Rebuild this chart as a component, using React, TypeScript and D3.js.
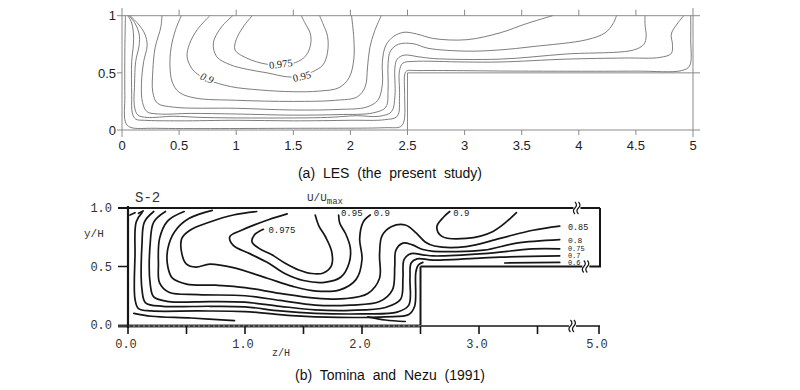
import React from 'react';
import * as d3 from 'd3';

// ---- (a) LES contours of U/Umax, points are [z/H, y/H] ----
const lesC0975 = [[1.14, 1.0], [1.06, 0.9], [1.0, 0.79], [0.99, 0.7], [1.09, 0.63], [1.27, 0.575], [1.4, 0.573], [1.52, 0.59], [1.61, 0.65], [1.65, 0.74], [1.65, 0.84], [1.6, 0.94], [1.57, 1.0]];
const lesC095 = [[0.97, 1.0], [0.87, 0.9], [0.8, 0.76], [0.83, 0.64], [0.95, 0.57], [1.1, 0.53], [1.27, 0.5], [1.45, 0.465], [1.57, 0.47], [1.67, 0.51], [1.76, 0.57], [1.8, 0.68], [1.8, 0.82], [1.76, 0.93], [1.73, 1.0]];
const lesC09 = [[0.77, 1.0], [0.66, 0.88], [0.59, 0.75], [0.57, 0.64], [0.61, 0.54], [0.66, 0.49], [0.75, 0.44], [0.95, 0.38], [1.21, 0.35], [1.5, 0.335], [1.72, 0.34], [1.9, 0.37], [1.99, 0.46], [2.03, 0.62], [2.03, 0.8], [2.01, 1.0]];
const lesC085 = [[0.52, 1.0], [0.47, 0.88], [0.43, 0.72], [0.42, 0.56], [0.44, 0.42], [0.5, 0.33], [0.64, 0.28], [1.0, 0.26], [1.5, 0.25], [1.87, 0.26], [2.06, 0.29], [2.13, 0.38], [2.15, 0.55], [2.17, 0.72], [2.21, 0.86], [2.27, 1.0]];
const lesC08 = [[0.35, 1.0], [0.34, 0.9], [0.29, 0.72], [0.27, 0.52], [0.27, 0.33], [0.31, 0.235], [0.45, 0.2], [1.0, 0.19], [1.5, 0.175], [1.9, 0.18], [2.14, 0.2], [2.24, 0.26], [2.28, 0.4], [2.28, 0.6], [2.31, 0.74], [2.38, 0.82], [2.47, 0.855], [2.58, 0.84], [2.73, 0.8], [3.02, 0.79], [3.31, 0.85], [3.54, 0.93], [3.77, 1.0]];
const lesC075 = [[0.07, 1.0], [0.14, 0.93], [0.2, 0.84], [0.22, 0.74], [0.19, 0.6], [0.17, 0.4], [0.18, 0.24], [0.22, 0.16], [0.32, 0.14], [0.6, 0.145], [1.0, 0.14], [1.5, 0.13], [1.9, 0.135], [2.2, 0.15], [2.31, 0.2], [2.33, 0.35], [2.33, 0.58], [2.35, 0.69], [2.42, 0.75], [2.55, 0.755], [2.68, 0.715], [3.02, 0.69], [3.3, 0.7], [3.6, 0.73], [4.07, 0.79], [4.23, 0.85], [4.3, 0.93], [4.33, 1.0]];
const lesC07 = [[0.06, 1.0], [0.11, 0.94], [0.15, 0.84], [0.15, 0.74], [0.12, 0.6], [0.11, 0.4], [0.11, 0.2], [0.14, 0.13], [0.22, 0.11], [0.45, 0.12], [0.7, 0.11], [1.2, 0.105], [1.8, 0.11], [2.05, 0.125], [2.25, 0.12], [2.36, 0.16], [2.39, 0.3], [2.39, 0.55], [2.41, 0.62], [2.47, 0.655], [2.6, 0.64], [2.73, 0.625], [3.31, 0.62], [3.89, 0.665], [4.48, 0.7], [4.57, 0.75], [4.59, 0.82], [4.58, 0.92], [4.58, 1.0]];
const lesC06 = [[0.05, 1.0], [0.08, 0.95], [0.1, 0.85], [0.1, 0.75], [0.085, 0.6], [0.085, 0.3], [0.09, 0.15], [0.12, 0.095], [0.2, 0.085], [0.5, 0.08], [1.0, 0.085], [1.5, 0.08], [2.0, 0.085], [2.3, 0.09], [2.41, 0.12], [2.43, 0.3], [2.43, 0.52], [2.46, 0.585], [2.55, 0.6], [3.0, 0.595], [3.31, 0.595], [3.89, 0.62], [4.4, 0.63], [4.71, 0.635], [4.81, 0.67], [4.82, 0.75], [4.81, 0.84], [4.87, 0.94], [4.92, 1.0]];
const lesCwall = [[0.03, 1.0], [0.025, 0.7], [0.025, 0.3], [0.03, 0.07], [0.07, 0.025], [0.3, 0.015], [1.5, 0.015], [2.3, 0.02], [2.44, 0.03], [2.47, 0.08], [2.475, 0.3], [2.475, 0.48], [2.49, 0.515], [2.6, 0.52], [3.5, 0.515], [4.5, 0.515], [4.9, 0.52], [4.97, 0.56], [4.98, 0.8], [4.98, 1.0]];
const lesContours = [lesC0975, lesC095, lesC09, lesC085, lesC08, lesC075, lesC07, lesC06, lesCwall];

const lesLabelTexts = ['0.975', '0.95', '0.9'];
const lesLabelAt = [[1.39, 0.578], [1.575, 0.47], [0.745, 0.455]];

const lesXTicks = [0, 0.5, 1, 1.5, 2, 2.5, 3, 3.5, 4, 4.5, 5];
const lesXTickLabels = ['0', '0.5', '1', '1.5', '2', '2.5', '3', '3.5', '4', '4.5', '5'];
const lesYTicks = [0, 0.5, 1];
const lesYTickLabels = ['0', '0.5', '1'];

// ---- (b) Tominaga and Nezu (1991), hand drawn contours ----
const expC0975 = [[1.157, 0.818], [1.08, 0.77], [1.06, 0.71], [1.12, 0.655], [1.23, 0.6], [1.34, 0.53], [1.46, 0.47], [1.57, 0.44], [1.67, 0.445], [1.74, 0.51], [1.74, 0.63], [1.69, 0.75], [1.63, 0.85], [1.6, 0.94]];
const expC095 = [[1.36, 0.95], [1.2, 0.9], [0.97, 0.81], [0.87, 0.755], [0.9, 0.68], [1.04, 0.61], [1.2, 0.53], [1.34, 0.44], [1.5, 0.38], [1.68, 0.365], [1.82, 0.41], [1.89, 0.53], [1.9, 0.66], [1.86, 0.78], [1.81, 0.87], [1.8, 0.94]];
const expC09 = [[1.1, 0.97], [0.9, 0.94], [0.7, 0.88], [0.53, 0.81], [0.46, 0.74], [0.46, 0.61], [0.5, 0.52], [0.58, 0.495], [0.7, 0.52], [0.9, 0.49], [1.19, 0.4], [1.41, 0.33], [1.61, 0.29], [1.81, 0.3], [1.95, 0.39], [2.0, 0.56], [1.98, 0.74], [2.01, 0.88], [2.07, 0.94]];
const expC09b = [[2.75, 0.97], [2.7, 0.925], [2.64, 0.84], [2.68, 0.76], [2.89, 0.74], [3.12, 0.8], [3.32, 0.96]];
const expC085 = [[0.72, 0.98], [0.52, 0.91], [0.4, 0.8], [0.34, 0.65], [0.34, 0.5], [0.38, 0.4], [0.5, 0.35], [0.75, 0.34], [1.0, 0.32], [1.3, 0.27], [1.6, 0.23], [1.85, 0.225], [2.05, 0.27], [2.15, 0.4], [2.15, 0.6], [2.17, 0.76], [2.25, 0.84], [2.37, 0.855], [2.46, 0.79], [2.54, 0.71], [2.62, 0.675], [2.89, 0.67], [3.18, 0.74], [3.46, 0.81], [3.69, 0.845]];
const expC08 = [[0.48, 0.97], [0.34, 0.89], [0.27, 0.74], [0.26, 0.52], [0.27, 0.36], [0.35, 0.28], [0.6, 0.26], [1.0, 0.25], [1.3, 0.21], [1.6, 0.17], [1.9, 0.17], [2.15, 0.2], [2.26, 0.3], [2.28, 0.5], [2.29, 0.64], [2.35, 0.7], [2.43, 0.685], [2.52, 0.645], [2.61, 0.63], [3.04, 0.64], [3.32, 0.7], [3.69, 0.73]];
const expC075 = [[0.32, 0.97], [0.22, 0.88], [0.19, 0.7], [0.19, 0.35], [0.22, 0.24], [0.35, 0.2], [0.7, 0.2], [1.0, 0.195], [1.3, 0.16], [1.6, 0.13], [1.9, 0.125], [2.2, 0.15], [2.33, 0.22], [2.35, 0.4], [2.36, 0.56], [2.42, 0.61], [2.52, 0.6], [2.61, 0.59], [3.04, 0.61], [3.46, 0.65], [3.69, 0.65]];
const expC07 = [[0.22, 0.97], [0.14, 0.88], [0.12, 0.7], [0.12, 0.3], [0.15, 0.19], [0.3, 0.16], [0.7, 0.16], [1.0, 0.155], [1.3, 0.12], [1.6, 0.1], [2.0, 0.095], [2.3, 0.11], [2.4, 0.17], [2.41, 0.4], [2.42, 0.53], [2.47, 0.565], [2.61, 0.555], [3.18, 0.58], [3.69, 0.59]];
const expC06 = [[0.12, 0.96], [0.07, 0.88], [0.06, 0.6], [0.06, 0.22], [0.09, 0.14], [0.2, 0.12], [0.6, 0.12], [1.0, 0.115], [1.4, 0.08], [1.8, 0.065], [2.2, 0.07], [2.4, 0.09], [2.45, 0.16], [2.46, 0.45], [2.48, 0.51], [2.52, 0.535]];
const expC06b = [[3.22, 0.53], [3.69, 0.535]];
const expFloorA = [[0.05, 0.1], [0.2, 0.075], [0.54, 0.06], [0.91, 0.037]];
const expFloorB = [[2.05, 0.07], [2.2, 0.043], [2.37, 0.03]];
const expDashA = [[0.017, 0.94], [0.06, 0.96]];
const expDashB = [[0.09, 0.955], [0.13, 0.975]];
const expContours = [expC0975, expC095, expC09, expC09b, expC085, expC08, expC075, expC07, expC06, expC06b, expFloorA, expFloorB, expDashA, expDashB];

const expLabelTexts = ['0.975', '0.95', '0.9', '0.9', '0.85', '0.8', '0.75', '0.7', '0.6'];
const expLabelAt = [[1.2, 0.79], [1.82, 0.93], [2.1, 0.93], [2.78, 0.93], [3.76, 0.81], [3.76, 0.705], [3.76, 0.636], [3.76, 0.576], [3.76, 0.516]];

const expXTicks = [0, 0.5, 1, 1.5, 2, 2.5, 3, 3.5, 5];
const expXLabelVals = [0, 1, 2, 3, 5];
const expXLabelTexts = ['0.0', '1.0', '2.0', '3.0', '5.0'];
const expYTicks = [0, 0.5, 1];
const expYTickLabels = ['0.0', '0.5', '1.0'];

const xA = d3.scaleLinear().domain([0, 5]).range([122, 693]);
const yA = d3.scaleLinear().domain([0, 1]).range([130, 15.7]);
const xB = d3.scaleLinear().domain([0, 3.9, 5]).range([128, 584.3, 599]);
const yB = d3.scaleLinear().domain([0, 1]).range([325, 208]);

const lineA = d3.line<number[]>().x(d => xA(d[0])).y(d => yA(d[1])).curve(d3.curveCatmullRom.alpha(0.5));
const lineB = d3.line<number[]>().x(d => xB(d[0])).y(d => yB(d[1])).curve(d3.curveCatmullRom.alpha(0.5));

const sans = '"Liberation Sans", Arial, sans-serif';
const mono = '"Liberation Mono", "DejaVu Sans Mono", monospace';
const gray = '#8a8a8a';
const ink = '#161616';

const lesLabelAngles = [-7, -14, 22];
// the stacked labels at the right end of panel (b) are smaller
const expLabelSizes = [9, 9, 9, 9, 8.5, 8, 7, 7, 7];

function BreakMark({ x, y }: { x: number; y: number }) {
  const wave = (dx: number) => `M${x + dx - 1.5},${y - 6} q3,3 0,6 q-3,3 0,6`;
  return (
    <g>
      <rect x={x - 3} y={y - 2} width={7} height={4} fill="#fff" />
      <path d={wave(0)} fill="none" stroke={ink} strokeWidth={1.2} />
      <path d={wave(3.5)} fill="none" stroke={ink} strokeWidth={1.2} />
    </g>
  );
}

export default function App() {
  const x0 = xA(0), x5 = xA(5), right = 700;
  return (
    <svg width={800} height={390} style={{ position: 'absolute', left: 0, top: 0, background: '#fff' }}>
      {/* ---------- panel (a) ---------- */}
      <g>
        {lesYTicks.map(v => (
          <line key={'yg' + v} x1={x0 - 5} x2={v === 0.5 ? x0 : right} y1={yA(v)} y2={yA(v)} stroke={gray} strokeWidth={1} />
        ))}
        <line x1={xA(2.5)} x2={right} y1={yA(0.5)} y2={yA(0.5)} stroke={gray} strokeWidth={1} />
        <line x1={xA(2.5)} x2={xA(2.5)} y1={yA(0)} y2={yA(0.5)} stroke={gray} strokeWidth={1} />
        <line x1={x0} x2={x0} y1={8} y2={137} stroke={gray} strokeWidth={1} />
        <line x1={x5} x2={x5} y1={8} y2={137} stroke={gray} strokeWidth={1} />
        {lesXTicks.filter(v => v > 0 && v < 5).map(v => (
          <g key={'xt' + v}>
            <line x1={xA(v)} x2={xA(v)} y1={yA(1) - 6} y2={yA(1)} stroke={gray} strokeWidth={1} />
            <line x1={xA(v)} x2={xA(v)} y1={yA(0)} y2={yA(0) + 5} stroke={gray} strokeWidth={1} />
          </g>
        ))}
        {lesContours.map((c, i) => (
          <path key={'lc' + i} d={lineA(c) || ''} fill="none" stroke="#6e6e6e" strokeWidth={0.9} />
        ))}
        {lesLabelTexts.map((t, i) => {
          const px = xA(lesLabelAt[i][0]), py = yA(lesLabelAt[i][1]);
          return (
            <text key={'ll' + i} x={px} y={py} dy="0.35em" textAnchor="middle"
              transform={`rotate(${lesLabelAngles[i]},${px},${py})`}
              fontFamily='"Liberation Serif", serif' fontSize={10.5} fontStyle={i === 2 ? 'italic' : 'normal'}
              fill="#222" stroke="#fff" strokeWidth={3} paintOrder="stroke">{t}</text>
          );
        })}
        {lesXTicks.map((v, i) => (
          <text key={'xl' + v} x={xA(v)} y={150} textAnchor="middle" fontFamily={sans} fontSize={13} fill="#222">{lesXTickLabels[i]}</text>
        ))}
        {lesYTicks.map((v, i) => (
          <text key={'yl' + v} x={116} y={yA(v)} dy="0.36em" textAnchor="end" fontFamily={sans} fontSize={13} fill="#222">{lesYTickLabels[i]}</text>
        ))}
        <text x={390} y={178} textAnchor="middle" fontFamily={sans} fontSize={14} wordSpacing={4} fill="#111">(a) LES (the present study)</text>
      </g>

      {/* ---------- panel (b) ---------- */}
      <g>
        <line x1={118} x2={xB(5) + 1} y1={yB(1)} y2={yB(1)} stroke={ink} strokeWidth={1.8} />
        <line x1={118} x2={xB(0)} y1={yB(0.5)} y2={yB(0.5)} stroke={ink} strokeWidth={1.5} />
        <line x1={118} x2={xB(2.5)} y1={yB(0) + 1} y2={yB(0) + 1} stroke="#3a3a3a" strokeWidth={3} />
        <line x1={xB(0)} x2={xB(2.5)} y1={yB(0) + 1} y2={yB(0) + 1} stroke="#9a9a9a" strokeWidth={1} strokeDasharray="2 3" />
        <line x1={xB(2.5)} x2={xB(5) + 1} y1={yB(0) + 1} y2={yB(0) + 1} stroke={ink} strokeWidth={1.5} />
        <line x1={xB(0)} x2={xB(0)} y1={yB(1) - 2} y2={yB(0) + 3} stroke={ink} strokeWidth={2.2} />
        <line x1={xB(2.5)} x2={xB(2.5)} y1={yB(0)} y2={yB(0.5)} stroke={ink} strokeWidth={2} />
        <line x1={xB(2.5)} x2={xB(5) + 2} y1={yB(0.5)} y2={yB(0.5)} stroke={ink} strokeWidth={1.8} />
        <line x1={xB(5) + 1} x2={xB(5) + 1} y1={yB(1)} y2={yB(0.5)} stroke={ink} strokeWidth={2} />
        {expXTicks.map(v => (
          <line key={'bt' + v} x1={xB(v)} x2={xB(v)} y1={yB(0) + 1} y2={yB(0) + 9} stroke={ink} strokeWidth={1.6} />
        ))}
        <BreakMark x={xB(3.85) - 2} y={yB(1)} />
        <BreakMark x={xB(3.9) + 1} y={yB(0.5)} />
        <BreakMark x={xB(3.82) - 3} y={yB(0) + 1} />
        {expContours.map((c, i) => (
          <path key={'ec' + i} d={lineB(c) || ''} fill="none" stroke={ink} strokeWidth={1.7} strokeLinecap="round" strokeLinejoin="round" />
        ))}
        {expLabelTexts.map((t, i) => (
          <text key={'el' + i} x={xB(expLabelAt[i][0])} y={yB(expLabelAt[i][1])} fontFamily={mono} fontSize={expLabelSizes[i]} fill={ink}>{t}</text>
        ))}
        {expXLabelVals.map((v, i) => (
          <text key={'bxl' + v} x={xB(v) - 2} y={348} textAnchor="middle" fontFamily={mono} fontSize={12} fill="#333">{expXLabelTexts[i]}</text>
        ))}
        {expYTicks.map((v, i) => (
          <text key={'byl' + v} x={112} y={yB(v)} dy="0.35em" textAnchor="end" fontFamily={mono} fontSize={12} fill="#333">{expYTickLabels[i]}</text>
        ))}
        <text x={135} y={202} fontFamily={mono} fontSize={14} fill="#333">S-2</text>
        <text x={307} y={201} fontFamily={mono} fontSize={11} fill="#333">U/U<tspan dy={3} fontSize={9}>max</tspan></text>
        <text x={84} y={237} fontFamily={mono} fontSize={11} fill="#333">y/H</text>
        <text x={272} y={356} fontFamily={mono} fontSize={10} fill="#333">z/H</text>
        <text x={390} y={380} textAnchor="middle" fontFamily={sans} fontSize={14} wordSpacing={4} fill="#111">(b) Tomina and Nezu (1991)</text>
      </g>
    </svg>
  );
}
